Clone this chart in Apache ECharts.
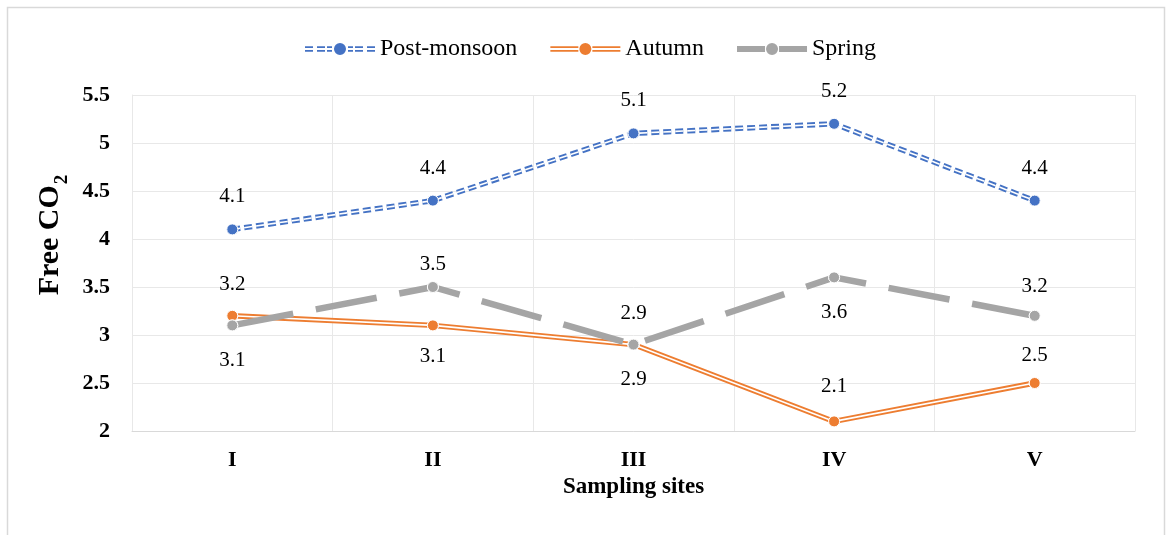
<!DOCTYPE html>
<html>
<head>
<meta charset="utf-8">
<script src="https://cdn.jsdelivr.net/npm/echarts@6/dist/echarts.min.js"></script>
<style>
  html, body { margin: 0; padding: 0; background: #fff; }
  #chart { width: 1166px; height: 535px; }
</style>
</head>
<body>
<div id="chart"></div>
<script>
// ---- data ----
const categories = ['I', 'II', 'III', 'IV', 'V'];
const postMonsoon = [4.1, 4.4, 5.1, 5.2, 4.4];
const autumn = [3.2, 3.1, 2.9, 2.1, 2.5];
const spring = [3.1, 3.5, 2.9, 3.6, 3.2];
const yMin = 2, yMax = 5.5, yStep = 0.5;

// ---- label placement (kept apart from the values) ----
const pmPlace = [['top', 16], ['top', 16], ['top', 16], ['top', 16], ['top', 16]];
const auPlace = [['top', 15], ['bottom', 15], ['bottom', 18], ['top', 18], ['top', 11]];
const spPlace = [['bottom', 19], ['top', 6], ['top', 15], ['bottom', 19], ['top', 13]];

const BLUE = '#4472C4', ORANGE = '#ED7D31', GRAY = '#A5A5A5';
const SERIF = "'Times New Roman', 'Liberation Serif', serif";

// legend icons (70 x 12 box)
const CIRCLE = 'M29 6a6 6 0 1 0 12 0a6 6 0 1 0 -12 0z';
function dbl(x0, x1) {
  const w = x1 - x0;
  return 'M' + x0 + ' 3.2h' + w + 'v1.9h-' + w + 'z M' + x0 + ' 6.9h' + w + 'v1.9h-' + w + 'z ';
}
const ICON_PM = 'path://' + dbl(0, 8) + dbl(12, 20) + dbl(22, 27) + CIRCLE + ' ' + dbl(43, 48) + dbl(50, 58) + dbl(62, 70);
const ICON_AU = 'path://' + dbl(0, 28) + CIRCLE + ' ' + dbl(42, 70);
const ICON_SP = 'path://M0 3h28v6h-28z ' + CIRCLE + ' M42 3h28v6h-28z';

function items(values, place) {
  return values.map((v, i) => ({
    value: v,
    label: { position: place[i][0], distance: place[i][1] }
  }));
}

function dotSeries(name, values, place, color, z) {
  return {
    name: name, type: 'line', data: items(values, place), z: z,
    symbol: 'circle', symbolSize: 11,
    lineStyle: { width: 0, opacity: 0 },
    itemStyle: { color: color, borderColor: '#fff', borderWidth: 1 },
    label: { show: true, color: '#000', fontFamily: SERIF, fontSize: 21 },
    silent: true
  };
}

const chart = echarts.init(document.getElementById('chart'), null, { renderer: 'canvas' });
chart.setOption({
  animation: false,
  backgroundColor: '#fff',
  graphic: [{
    type: 'rect', silent: true, z: -10,
    shape: { x: 7.5, y: 7.5, width: 1157, height: 560 },
    style: { fill: 'none', stroke: '#d9d9d9', lineWidth: 1.5 }
  }],
  legend: {
    data: [
      { name: 'Post-monsoon', icon: ICON_PM, itemStyle: { color: BLUE, borderWidth: 0 } },
      { name: 'Autumn', icon: ICON_AU, itemStyle: { color: ORANGE, borderWidth: 0 } },
      { name: 'Spring', icon: ICON_SP, itemStyle: { color: GRAY, borderWidth: 0 } }
    ],
    top: 32, left: 300,
    itemWidth: 70, itemHeight: 12, itemGap: 33,
    textStyle: { fontFamily: SERIF, fontSize: 24, color: '#000' }
  },
  grid: { left: 132, right: 31, top: 95, bottom: 104, containLabel: false },
  xAxis: {
    type: 'category', data: categories, boundaryGap: true,
    axisLine: { show: true, lineStyle: { color: '#d9d9d9', width: 1 } },
    axisTick: { show: false },
    axisLabel: { color: '#000', fontFamily: SERIF, fontWeight: 'bold', fontSize: 22, margin: 18 },
    splitLine: { show: true, lineStyle: { color: '#e8e8e8', width: 1 } },
    name: 'Sampling sites', nameLocation: 'middle', nameGap: 41,
    nameTextStyle: { color: '#000', fontFamily: SERIF, fontWeight: 'bold', fontSize: 23 }
  },
  yAxis: {
    type: 'value', min: yMin, max: yMax, interval: yStep,
    axisLine: { show: true, lineStyle: { color: '#e8e8e8' } },
    axisTick: { show: false },
    axisLabel: { color: '#000', fontFamily: SERIF, fontWeight: 'bold', fontSize: 22, margin: 22 },
    splitLine: { show: true, lineStyle: { color: '#e8e8e8', width: 1 } },
    name: '{a|Free CO}{b|2}', nameLocation: 'middle', nameGap: 59,
    nameTextStyle: {
      color: '#000', padding: [0, 0, 0, 56],
      rich: {
        a: { fontFamily: SERIF, fontWeight: 'bold', fontSize: 30, lineHeight: 30, verticalAlign: 'top', color: '#000' },
        b: { fontFamily: SERIF, fontWeight: 'bold', fontSize: 19, lineHeight: 19, padding: [17, 0, 0, 1], verticalAlign: 'top', color: '#000' }
      }
    }
  },
  series: [
    // Post-monsoon: double dashed line
    {
      name: 'Post-monsoon', type: 'line', data: postMonsoon, z: 2,
      symbol: 'circle', symbolSize: 11,
      lineStyle: { color: BLUE, width: 5.4, type: [8, 4] },
      itemStyle: { color: BLUE, borderColor: '#fff', borderWidth: 1 }
    },
    {
      name: 'pm-inner', type: 'line', data: postMonsoon, z: 3, symbol: 'none', silent: true,
      lineStyle: { color: '#fff', width: 1.6, type: [8, 4] }
    },
    dotSeries('pm-dots', postMonsoon, pmPlace, BLUE, 4),
    // Autumn: double solid line
    {
      name: 'Autumn', type: 'line', data: autumn, z: 5,
      symbol: 'circle', symbolSize: 11,
      lineStyle: { color: ORANGE, width: 5.4 },
      itemStyle: { color: ORANGE, borderColor: '#fff', borderWidth: 1 }
    },
    {
      name: 'au-inner', type: 'line', data: autumn, z: 6, symbol: 'none', silent: true,
      lineStyle: { color: '#fff', width: 1.6 }
    },
    dotSeries('au-dots', autumn, auPlace, ORANGE, 7),
    // Spring: thick long dash
    {
      name: 'Spring', type: 'line', data: spring, z: 8,
      symbol: 'circle', symbolSize: 11,
      lineStyle: { color: GRAY, width: 6.5, type: [62, 23] },
      itemStyle: { color: GRAY, borderColor: '#fff', borderWidth: 1 }
    },
    dotSeries('sp-dots', spring, spPlace, GRAY, 9)
  ]
});
</script>
</body>
</html>
